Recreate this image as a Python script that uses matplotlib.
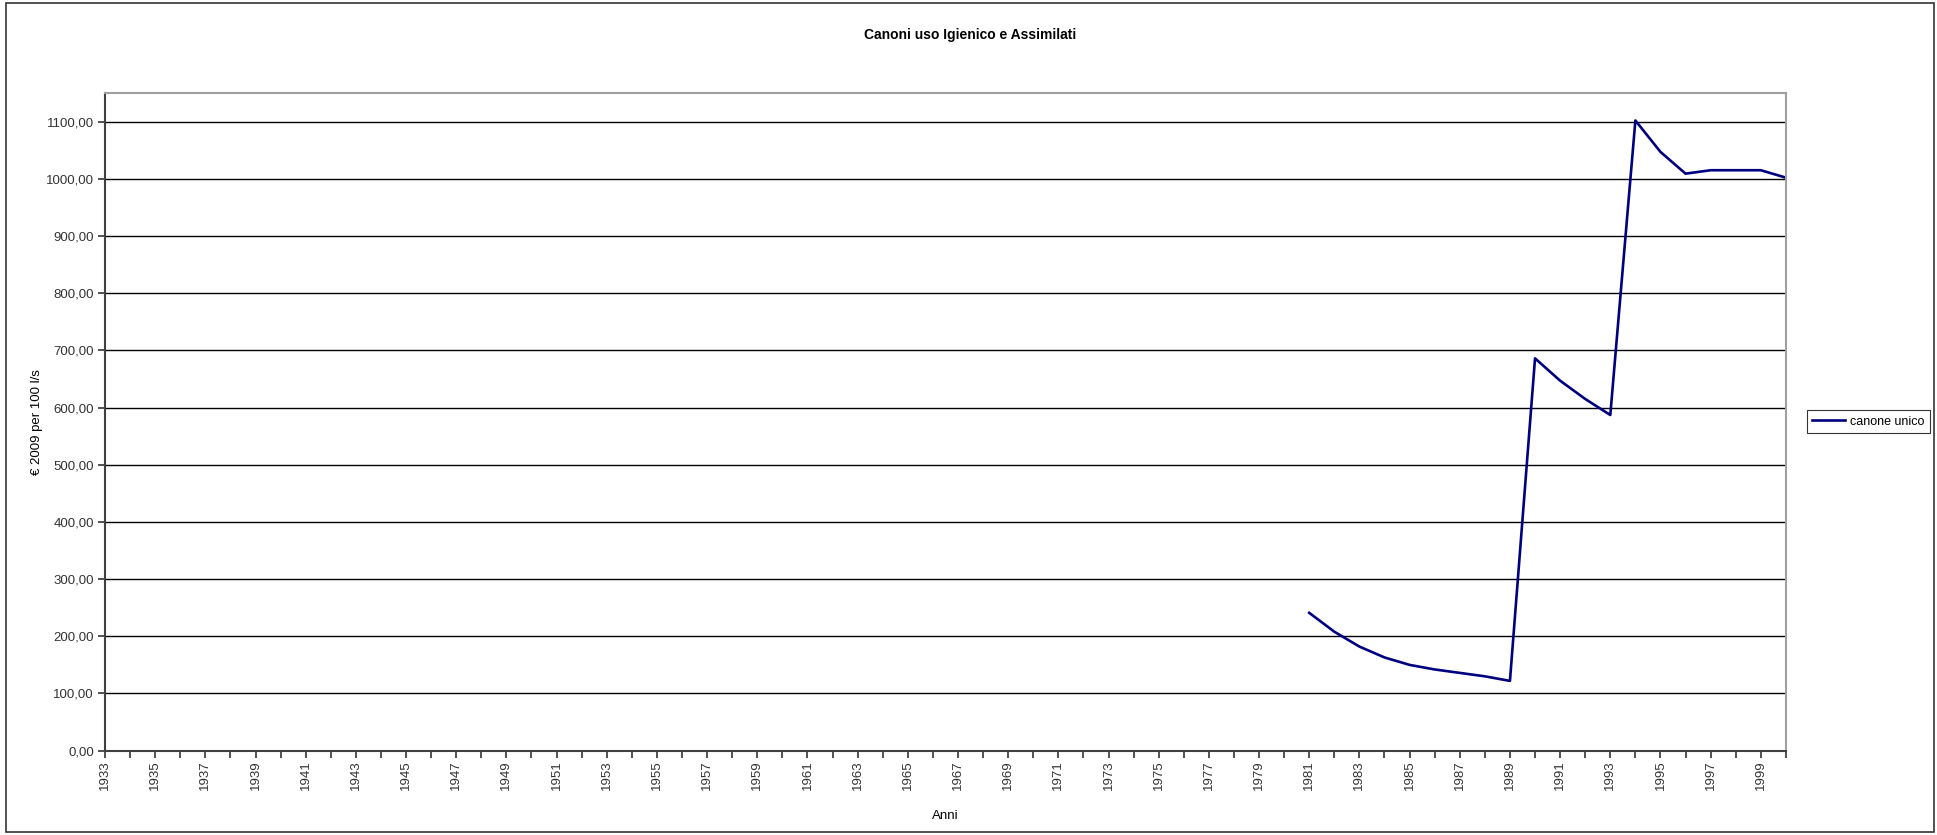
import matplotlib
matplotlib.use("Agg")
import matplotlib.pyplot as plt
from matplotlib.patches import Rectangle
from matplotlib.ticker import FuncFormatter

plt.rcParams['font.family'] = ['Liberation Sans', 'DejaVu Sans']

# years on the category axis and the yearly fee series
years_axis = list(range(1933, 2001))
years = list(range(1981, 2001))
canone = [241, 208, 182, 163, 150, 142, 136, 130, 122,
          686, 647, 615, 587,
          1102, 1047, 1009, 1015, 1015, 1015, 1002]

fig = plt.figure(figsize=(19.37, 8.35), dpi=100)
ax = fig.add_axes([0.0542, 0.101, 0.8678, 0.7876])

ax.plot(years, canone, color='#000080', linewidth=1.9, label='canone unico')

ax.set_xlim(years_axis[0], years_axis[-1])
ax.set_ylim(0, 1150)
ax.set_yticks(range(0, 1101, 100))
ax.yaxis.set_major_formatter(FuncFormatter(lambda v, p: f"{v:.2f}".replace('.', ',')))
ax.set_xticks(years_axis[::2])
ax.set_xticks(years_axis, minor=True)
ax.set_xticklabels([str(y) for y in years_axis[::2]], rotation=90)

ax.grid(axis='y', color='black', linewidth=1.0)
ax.set_axisbelow(True)
ax.tick_params(axis='both', which='both', direction='out', labelsize=9.5, colors='#333333')
ax.tick_params(axis='x', which='both', length=5, width=1.2)
ax.tick_params(axis='y', length=5, width=1.2, pad=3)
ax.tick_params(axis='x', pad=2)

for side in ['left', 'bottom']:
    ax.spines[side].set_color('#404040')
    ax.spines[side].set_linewidth(1.5)
for side in ['top', 'right']:
    ax.spines[side].set_color('#a0a0a0')
    ax.spines[side].set_linewidth(1.5)

ax.set_xlabel('Anni', fontsize=9.5, labelpad=14)
ax.set_ylabel('€ 2009 per 100 l/s', fontsize=9.5, labelpad=2)
fig.text(0.501, 0.958, 'Canoni uso Igienico e Assimilati', ha='center', va='center',
         fontsize=10, fontweight='bold')

leg = fig.legend(loc='center right', bbox_to_anchor=(0.9962, 0.495), fontsize=9,
                 frameon=True, fancybox=False, edgecolor='black', handlelength=2.6,
                 borderpad=0.45, handletextpad=0.4, borderaxespad=0)
leg.get_frame().set_linewidth(0.8)

# outer chart frame
fig.patches.append(Rectangle((0.003, 0.004), 0.9955, 0.993, transform=fig.transFigure,
                             fill=False, edgecolor='#333333', linewidth=1.2))

fig.savefig('out.png', dpi=100)
